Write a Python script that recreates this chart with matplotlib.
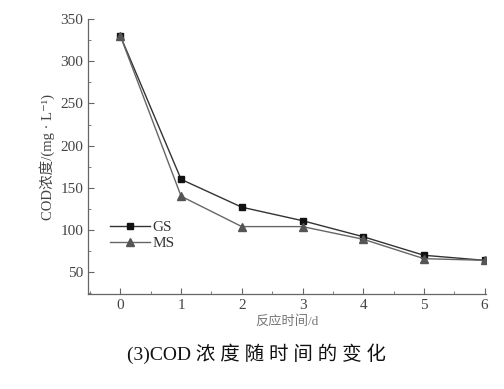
import matplotlib
matplotlib.use("Agg")
import matplotlib.pyplot as plt
from matplotlib.ticker import MultipleLocator

days = [0, 1, 2, 3, 4, 5, 6]
gs = [330, 160, 127, 111, 92, 70, 64]
ms = [330, 140, 104, 104, 89, 66, 64]
xticks = [0, 1, 2, 3, 4, 5, 6]
yticks = [50, 100, 150, 200, 250, 300, 350]

serif = ["Liberation Serif", "DejaVu Serif"]
cjk = ["Liberation Serif", "Noto Sans CJK SC", "DejaVu Sans"]
plt.rcParams['font.family'] = cjk

fig = plt.figure(figsize=(5.04, 3.89), dpi=100)
ax = fig.add_axes([0.175, 0.244, 0.789, 0.707])

ax.plot(days, gs, color="#333333", lw=1.0, marker="s", ms=5, mfc="#111111", mec="#111111", label="GS")
ax.plot(days, ms, color="#666666", lw=1.0, marker="^", ms=5.5, mfc="#555555", mec="#555555", label="MS")

ax.set_xlim(-0.53, 6.02)
ax.set_ylim(24, 350)
ax.set_xticks(xticks)
ax.set_yticks(yticks)
ax.xaxis.set_minor_locator(MultipleLocator(0.5))
ax.yaxis.set_minor_locator(MultipleLocator(25))
for s in ["top", "right"]:
    ax.spines[s].set_visible(False)
for s in ["left", "bottom"]:
    ax.spines[s].set_color("#666666")
    ax.spines[s].set_linewidth(0.9)
ax.tick_params(which="both", direction="in", colors="#666666", labelcolor="#444444", labelsize=11)
ax.tick_params(which="major", length=4)
ax.tick_params(which="minor", length=2)
for lab in ax.get_xticklabels() + ax.get_yticklabels():
    lab.set_family(serif)

ax.set_ylabel("COD浓度/(mg · L⁻¹)", fontsize=10.5, color="#444444", labelpad=4)
ax.set_xlabel("反应时间/d", fontsize=9.5, color="#777777", labelpad=2)

leg = ax.legend(loc="lower left", bbox_to_anchor=(0.02, 0.11), frameon=False,
                fontsize=11, handlelength=2.6, labelspacing=0.15, handletextpad=0.2)
for t in leg.get_texts():
    t.set_family(serif)
    t.set_color("#333333")

fig.text(0.508, 0.092, "(3)COD 浓 度 随 时 间 的 变 化", ha="center", va="center",
         fontsize=14, color="#111111")

fig.savefig("out.png", dpi=100)
